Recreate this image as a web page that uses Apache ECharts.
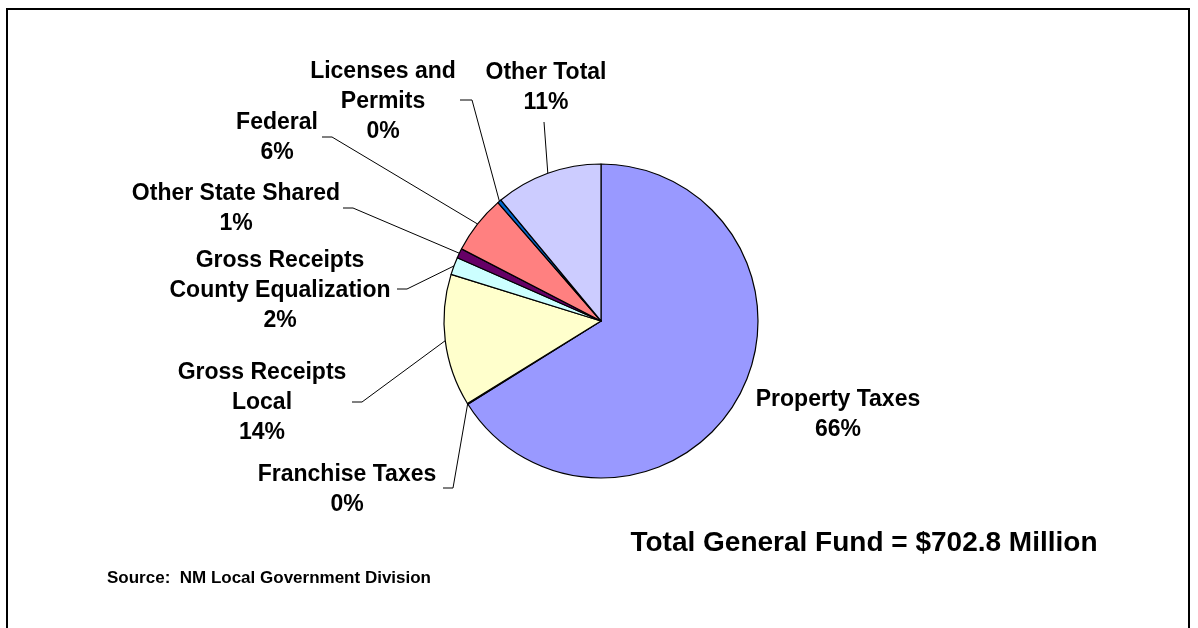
<!DOCTYPE html>
<html>
<head>
<meta charset="utf-8">
<script src="https://cdn.jsdelivr.net/npm/echarts@6/dist/echarts.min.js"></script>
<style>
html,body{margin:0;padding:0;background:#fff;}
#chart{width:1198px;height:628px;}
</style>
</head>
<body>
<div id="chart"></div>
<script>
// Categories (display names, line breaks as in the reference)
var categories = [
  'Property Taxes',
  'Franchise Taxes',
  'Gross Receipts\nLocal',
  'Gross Receipts\nCounty Equalization',
  'Other State Shared',
  'Federal',
  'Licenses and\nPermits',
  'Other Total'
];
// Share of the general fund, percent
var shares = [66.1, 0.1, 13.6, 1.8, 1.0, 6.0, 0.4, 11.0];
var colors = ['#9999FF', '#993366', '#FFFFCC', '#CCFFFF', '#660066', '#FF8080', '#0066CC', '#CCCCFF'];
var totalText = 'Total General Fund = $702.8 Million';
var sourceText = 'Source:  NM Local Government Division';

// Label placement (layout only): text centre, leader bend point, leader end point
var labelPlace = [
  {x: 838, y: 415, line: false},
  {x: 347, y: 490, bend: [453, 488], end: [443, 488]},
  {x: 262, y: 403, bend: [362, 402], end: [352, 402]},
  {x: 280, y: 291, bend: [407, 289], end: [397, 289]},
  {x: 236, y: 209, bend: [353, 208], end: [343, 208]},
  {x: 277, y: 138, bend: [332, 137], end: [322, 137]},
  {x: 383, y: 102, bend: [472, 100], end: [460, 100]},
  {x: 546, y: 88,  bend: [544, 122], end: [544, 122]}
];

var FONT = '"Liberation Sans", Arial, Helvetica, sans-serif';

var data = categories.map(function (c, i) {
  return {
    name: c,
    value: shares[i],
    itemStyle: {color: colors[i]},
    labelLine: {show: labelPlace[i].line !== false}
  };
});

var chart = echarts.init(document.getElementById('chart'), null, {renderer: 'canvas'});
chart.setOption({
  animation: false,
  backgroundColor: '#fff',
  graphic: [
    {type: 'rect', shape: {x: 7, y: 9, width: 1182, height: 660},
     style: {fill: 'none', stroke: '#000', lineWidth: 2}, silent: true},
    {type: 'text', x: 105, y: -14,
     style: {text: 'g', font: 'bold 28px ' + FONT, fill: '#000', verticalAlign: 'middle'}},
    {type: 'text', x: 864, y: 543,
     style: {text: totalText, font: 'bold 28px ' + FONT, fill: '#000', align: 'center', verticalAlign: 'middle'}},
    {type: 'text', x: 107, y: 578,
     style: {text: sourceText, font: 'bold 17px ' + FONT, fill: '#000', verticalAlign: 'middle'}}
  ],
  series: [{
    type: 'pie',
    center: [601, 321],
    radius: 157,
    startAngle: 90,
    clockwise: true,
    avoidLabelOverlap: false,
    emphasis: {disabled: true},
    itemStyle: {borderColor: '#000', borderWidth: 1.2},
    label: {
      show: true,
      position: 'outside',
      color: '#000',
      fontFamily: FONT,
      fontWeight: 'bold',
      fontSize: 23,
      lineHeight: 30,
      align: 'center',
      formatter: function (p) { return p.name + '\n' + Math.round(p.percent) + '%'; }
    },
    labelLine: {show: true, length: 10, length2: 10, smooth: false,
      lineStyle: {color: '#000', width: 1}},
    labelLayout: function (p) {
      var lp = labelPlace[p.dataIndex];
      var out = {x: lp.x, y: lp.y, align: 'center', verticalAlign: 'middle'};
      if (lp.line !== false && p.labelLinePoints) {
        out.labelLinePoints = [p.labelLinePoints[0], lp.bend, lp.end];
      }
      return out;
    },
    data: data
  }]
});
</script>
</body>
</html>
